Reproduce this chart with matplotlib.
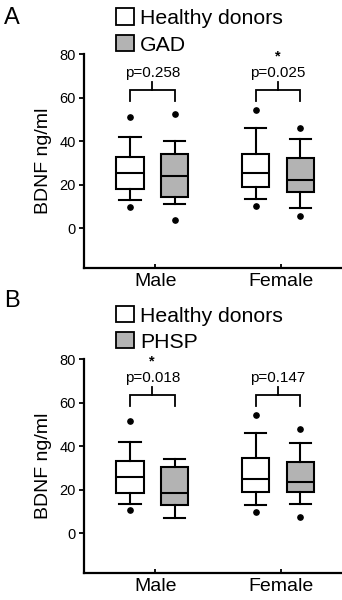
import numpy as np
import matplotlib
matplotlib.use('Agg')
from matplotlib import pyplot as plt
from matplotlib.patches import Rectangle

plt.rcParams['font.family'] = ['Liberation Sans', 'DejaVu Sans']

# ---- data ----
sexes = ['Male', 'Female']
panel_letters = ['A', 'B']
disease_names = ['GAD', 'PHSP']
p_texts = [['p=0.258', 'p=0.025'], ['p=0.018', 'p=0.147']]
stars = [['', '*'], ['*', '']]

# panel A, healthy donors
hd_a_whislo = [12.8, 13.5]
hd_a_q1 = [18.2, 19.0]
hd_a_med = [25.5, 25.2]
hd_a_q3 = [32.6, 34.1]
hd_a_whishi = [42.0, 45.9]
hd_a_fliers = [[51.1, 9.8], [54.3, 10.2]]

# panel A, GAD
gad_whislo = [11.0, 9.2]
gad_q1 = [14.4, 16.8]
gad_med = [23.9, 22.2]
gad_q3 = [34.3, 32.3]
gad_whishi = [39.9, 40.8]
gad_fliers = [[52.4, 3.8], [45.9, 5.8]]

# panel B, healthy donors
hd_b_whislo = [13.5, 13.2]
hd_b_q1 = [18.5, 19.0]
hd_b_med = [25.7, 25.1]
hd_b_q3 = [33.3, 34.6]
hd_b_whishi = [41.9, 45.9]
hd_b_fliers = [[51.4, 10.7], [54.4, 9.9]]

# panel B, PHSP
phsp_whislo = [7.2, 13.5]
phsp_q1 = [13.1, 19.0]
phsp_med = [18.5, 23.4]
phsp_q3 = [30.4, 32.6]
phsp_whishi = [34.1, 41.3]
phsp_fliers = [[], [48.0, 7.6]]

GRAY = '#b3b3b3'
W, H = 342, 600


def make_stats(whislo, q1, med, q3, whishi, fliers):
    stats = []
    for i in range(len(med)):
        stats.append(dict(whislo=whislo[i], q1=q1[i], med=med[i], q3=q3[i],
                          whishi=whishi[i], fliers=fliers[i]))
    return stats


def fy(ypx):
    return 1 - ypx / H


def fx(xpx):
    return xpx / W


def draw_panel(fig, ax, healthy, disease, pt, st):
    offset = 0.177
    width = 0.216
    centers = np.arange(1, len(sexes) + 1)
    common = dict(widths=width, patch_artist=True, showfliers=True,
                  capwidths=0.17,
                  whiskerprops=dict(color='k', linewidth=1.5),
                  capprops=dict(color='k', linewidth=1.5),
                  medianprops=dict(color='k', linewidth=1.5),
                  flierprops=dict(marker='o', markerfacecolor='k',
                                  markeredgecolor='k', markersize=3.8))
    ax.bxp(healthy, positions=centers - offset,
           boxprops=dict(facecolor='white', edgecolor='k', linewidth=1.5), **common)
    ax.bxp(disease, positions=centers + offset,
           boxprops=dict(facecolor=GRAY, edgecolor='k', linewidth=1.5), **common)

    # brackets + p values
    for c, p, s in zip(centers, pt, st):
        x0, x1 = c - offset, c + offset
        ax.plot([x0, x0, x1, x1], [58.4, 63.5, 63.5, 58.4], color='k', lw=1.3,
                solid_joinstyle='miter')
        ax.plot([c, c], [63.5, 67.3], color='k', lw=1.3)
        ax.text(c, 71.3, p, ha='center', va='center', fontsize=11)
        if s:
            ax.text(c, 79.0, s, ha='center', va='center', fontsize=10.5,
                    fontweight='bold', clip_on=False)

    ax.set_xlim(0.457, 2.504)
    ax.set_ylim(-18, 80)
    ax.set_yticks([0, 20, 40, 60, 80])
    ax.set_xticks(centers + 0.025)
    ax.set_xticklabels(sexes, fontsize=14)
    ax.tick_params(axis='y', labelsize=10.5, length=3.5, width=1.3, pad=2.5)
    ax.tick_params(axis='x', direction='in', length=3, width=1.3, pad=4)
    ax.spines['top'].set_visible(False)
    ax.spines['right'].set_visible(False)
    ax.spines['left'].set_linewidth(1.6)
    ax.spines['bottom'].set_linewidth(1.6)
    ax.spines['left'].set_bounds(-18, 80)
    ax.set_ylabel('BDNF ng/ml', fontsize=14, labelpad=5)


fig = plt.figure(figsize=(3.42, 6.0), dpi=100)

left = fx(84)
width = 1 - left - 0.002
ax_a = fig.add_axes([left, fy(267.5), width, 213.5 / H])
ax_b = fig.add_axes([left, fy(572.5), width, 213.5 / H])

draw_panel(fig, ax_a,
           make_stats(hd_a_whislo, hd_a_q1, hd_a_med, hd_a_q3, hd_a_whishi, hd_a_fliers),
           make_stats(gad_whislo, gad_q1, gad_med, gad_q3, gad_whishi, gad_fliers),
           p_texts[0], stars[0])
draw_panel(fig, ax_b,
           make_stats(hd_b_whislo, hd_b_q1, hd_b_med, hd_b_q3, hd_b_whishi, hd_b_fliers),
           make_stats(phsp_whislo, phsp_q1, phsp_med, phsp_q3, phsp_whishi, phsp_fliers),
           p_texts[1], stars[1])

# panel letters and legends (figure pixel layout)
letter_base = [24, 307]
legend_rows = [[8, 34.5], [305.5, 331.5]]
for letter, base, rows, dname in zip(panel_letters, letter_base, legend_rows, disease_names):
    fig.text(fx(4), fy(base), letter, fontsize=17, va='baseline', ha='left')
    for top, label, fc in zip(rows, ['Healthy donors', dname], ['white', GRAY]):
        fig.patches.append(Rectangle((fx(116), fy(top + 16.5)), 17.5 / W, 16.5 / H,
                                     transform=fig.transFigure, facecolor=fc,
                                     edgecolor='k', linewidth=1.3))
        fig.text(fx(140), fy(top + 16.3), label, fontsize=15.3, va='baseline', ha='left')

fig.savefig('out.png', dpi=100)
